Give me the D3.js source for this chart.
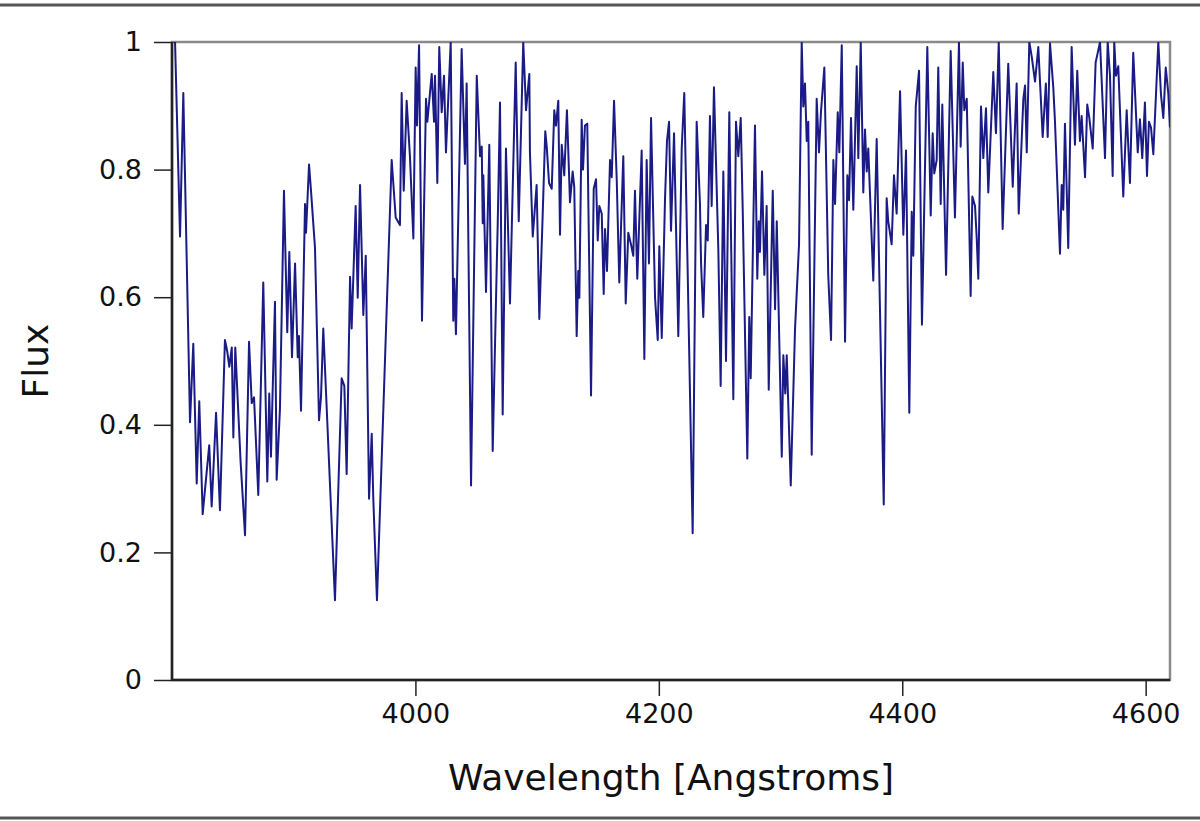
<!DOCTYPE html>
<html lang="en">
<head>
  <meta charset="UTF-8">
  <title>Spectrum</title>
  <script src="https://d3js.org/d3.v7.min.js"></script>
  <style>
    body { margin: 0; background: #fff; }
  </style>
</head>
<body>
<script>
  var width = 1200;
  var height = 821;
  var margin = { top: 42, right: 30, bottom: 141, left: 172 };

  // spectrum
  var wavelength = [
    3801.1, 3802.5, 3806.6, 3809.3, 3814.8, 3817.5, 3820.3, 3822.4, 3825.2, 3830.6,
    3832.6, 3836.2, 3839.4, 3843.5, 3845.4, 3847.1, 3849.1, 3850.4, 3852.0, 3856.4,
    3860.0, 3863.3, 3865.5, 3867.4, 3870.9, 3875.0, 3878.3, 3879.9, 3881.3, 3884.6,
    3886.0, 3888.7, 3892.0, 3894.7, 3896.4, 3898.6, 3901.1, 3903.3, 3904.3, 3906.0,
    3909.3, 3910.1, 3912.6, 3914.2, 3917.5, 3920.8, 3922.4, 3924.3, 3933.9, 3939.4,
    3941.6, 3943.5, 3946.3, 3947.6, 3950.9, 3952.6, 3954.5, 3957.2, 3959.2, 3961.9,
    3964.1, 3965.4, 3968.4, 3976.4, 3980.5, 3983.8, 3987.3, 3988.7, 3990.4, 3992.8,
    3995.5, 3998.3, 4000.2, 4001.3, 4003.0, 4005.4, 4008.7, 4009.8, 4013.4, 4015.3,
    4016.1, 4018.0, 4019.6, 4021.6, 4023.5, 4025.1, 4029.0, 4031.1, 4032.0, 4033.3,
    4038.0, 4040.7, 4042.1, 4045.7, 4050.4, 4053.1, 4054.5, 4055.3, 4055.8, 4058.0,
    4060.7, 4063.5, 4066.8, 4067.6, 4069.5, 4071.7, 4074.4, 4077.7, 4082.4, 4084.9,
    4088.6, 4090.9, 4093.6, 4094.1, 4096.4, 4099.6, 4101.8, 4104.6, 4106.7, 4107.9,
    4109.8, 4112.0, 4114.1, 4115.5, 4117.4, 4118.8, 4120.2, 4122.3, 4124.5, 4127.0,
    4129.2, 4130.5, 4132.5, 4133.8, 4134.7, 4136.6, 4137.7, 4139.3, 4141.2, 4144.3,
    4146.5, 4148.4, 4149.8, 4151.1, 4153.1, 4154.7, 4155.8, 4157.4, 4159.9, 4161.3,
    4163.2, 4165.4, 4167.5, 4170.8, 4172.8, 4174.9, 4177.1, 4179.0, 4180.4, 4182.3,
    4185.9, 4188.1, 4190.0, 4191.9, 4193.6, 4196.9, 4199.1, 4200.4, 4202.4, 4205.1,
    4206.7, 4208.4, 4210.0, 4212.5, 4216.0, 4218.8, 4220.9, 4227.8, 4231.1, 4233.8,
    4234.7, 4236.5, 4238.8, 4240.2, 4242.0, 4243.4, 4245.3, 4248.9, 4250.8, 4253.0,
    4255.2, 4257.9, 4261.2, 4263.4, 4265.3, 4267.3, 4268.9, 4272.7, 4274.3, 4275.5,
    4279.0, 4280.9, 4282.1, 4283.1, 4284.8, 4286.7, 4288.6, 4290.3, 4293.6, 4295.5,
    4296.9, 4301.0, 4302.3, 4303.9, 4305.1, 4308.4, 4311.9, 4315.2, 4317.4, 4318.7,
    4320.1, 4321.5, 4322.8, 4325.6, 4329.7, 4331.6, 4333.2, 4336.0, 4339.2, 4341.5,
    4343.4, 4344.8, 4347.0, 4348.3, 4350.3, 4353.0, 4354.9, 4356.3, 4357.9, 4359.8,
    4362.6, 4363.9, 4365.9, 4368.0, 4369.4, 4370.8, 4372.1, 4376.2, 4379.0, 4384.8,
    4387.2, 4388.5, 4391.3, 4393.2, 4395.4, 4398.2, 4400.9, 4403.1, 4405.8, 4407.8,
    4409.1, 4411.1, 4413.8, 4416.2, 4420.6, 4423.4, 4425.0, 4426.3, 4428.3, 4429.6,
    4431.6, 4432.9, 4436.0, 4439.8, 4443.3, 4446.6, 4448.0, 4449.7, 4451.0, 4453.0,
    4456.2, 4457.6, 4459.8, 4461.2, 4462.5, 4464.7, 4466.6, 4468.8, 4470.7, 4474.8,
    4477.0, 4479.3, 4482.5, 4487.1, 4490.8, 4494.0, 4495.7, 4499.5, 4500.9, 4502.3,
    4504.4, 4506.4, 4509.1, 4511.8, 4515.4, 4518.0, 4519.5, 4521.4, 4524.1, 4525.5,
    4529.6, 4531.0, 4532.3, 4533.7, 4536.4, 4539.2, 4541.9, 4543.8, 4546.0, 4547.4,
    4550.2, 4552.0, 4553.7, 4556.5, 4558.9, 4560.6, 4562.5, 4566.6, 4568.8, 4570.7,
    4572.9, 4574.2, 4575.6, 4577.5, 4581.6, 4584.4, 4587.1, 4589.8, 4593.5, 4595.3,
    4597.2, 4599.4, 4601.1, 4602.7, 4604.4, 4606.3, 4610.4, 4612.6, 4614.5, 4616.5,
    4618.6, 4620.0
  ];
  var flux = [
    1.0, 1.0, 0.695, 0.92, 0.404, 0.527, 0.308, 0.437, 0.26, 0.368,
    0.272, 0.419, 0.266, 0.533, 0.515, 0.491, 0.521, 0.38, 0.521, 0.341,
    0.227, 0.53, 0.434, 0.443, 0.29, 0.623, 0.311, 0.449, 0.35, 0.593,
    0.314, 0.425, 0.767, 0.545, 0.671, 0.506, 0.653, 0.506, 0.539, 0.422,
    0.746, 0.701, 0.808, 0.767, 0.677, 0.407, 0.443, 0.551, 0.125, 0.473,
    0.461, 0.323, 0.632, 0.551, 0.743, 0.599, 0.776, 0.572, 0.665, 0.284,
    0.386, 0.284, 0.125, 0.581, 0.815, 0.725, 0.713, 0.92, 0.767, 0.908,
    0.821, 0.692, 0.96, 0.869, 0.995, 0.563, 0.911, 0.875, 0.95, 0.875,
    0.947, 0.779, 0.992, 0.89, 0.947, 0.827, 1.0, 0.563, 0.629, 0.542,
    0.989, 0.809, 0.935, 0.305, 0.947, 0.821, 0.836, 0.716, 0.791, 0.608,
    0.839, 0.359, 0.647, 0.713, 0.905, 0.416, 0.833, 0.59, 0.968, 0.719,
    1.0, 0.893, 0.95, 0.827, 0.695, 0.776, 0.566, 0.731, 0.86, 0.836,
    0.779, 0.77, 0.893, 0.869, 0.908, 0.698, 0.839, 0.791, 0.893, 0.749,
    0.797, 0.773, 0.539, 0.641, 0.599, 0.878, 0.8, 0.869, 0.872, 0.446,
    0.77, 0.785, 0.689, 0.743, 0.731, 0.605, 0.707, 0.641, 0.815, 0.788,
    0.908, 0.785, 0.623, 0.821, 0.59, 0.701, 0.683, 0.665, 0.767, 0.629,
    0.83, 0.503, 0.815, 0.653, 0.881, 0.599, 0.533, 0.68, 0.536, 0.755,
    0.845, 0.875, 0.704, 0.857, 0.539, 0.833, 0.92, 0.23, 0.875, 0.746,
    0.653, 0.569, 0.713, 0.689, 0.884, 0.743, 0.929, 0.674, 0.461, 0.797,
    0.5, 0.89, 0.44, 0.875, 0.821, 0.881, 0.74, 0.347, 0.569, 0.473,
    0.869, 0.629, 0.719, 0.671, 0.797, 0.635, 0.743, 0.455, 0.767, 0.581,
    0.719, 0.35, 0.509, 0.449, 0.509, 0.305, 0.55, 0.683, 1.0, 0.899,
    0.935, 0.845, 0.875, 0.353, 0.911, 0.827, 0.89, 0.96, 0.635, 0.533,
    0.815, 0.746, 0.89, 0.827, 0.995, 0.53, 0.791, 0.752, 0.881, 0.737,
    0.962, 0.818, 1.0, 0.764, 0.863, 0.797, 0.833, 0.626, 0.848, 0.275,
    0.755, 0.719, 0.683, 0.791, 0.731, 0.923, 0.698, 0.83, 0.419, 0.734,
    0.665, 0.899, 0.955, 0.557, 0.992, 0.728, 0.857, 0.794, 0.815, 0.96,
    0.746, 0.902, 0.635, 0.986, 0.725, 1.0, 0.836, 0.968, 0.893, 0.911,
    0.602, 0.758, 0.743, 0.692, 0.629, 0.899, 0.818, 0.896, 0.764, 0.953,
    0.857, 1.0, 0.707, 0.966, 0.773, 0.935, 0.731, 0.911, 0.932, 0.827,
    1.0, 0.977, 0.938, 0.992, 0.851, 0.935, 0.851, 0.998, 0.929, 0.875,
    0.668, 0.776, 0.737, 0.872, 0.677, 0.992, 0.839, 0.955, 0.845, 0.884,
    0.788, 0.902, 0.881, 0.833, 0.968, 0.983, 1.0, 0.818, 1.0, 0.947,
    0.79, 1.0, 0.947, 0.962, 0.758, 0.893, 0.779, 0.983, 0.827, 0.879,
    0.818, 0.905, 0.79, 0.875, 0.866, 0.824, 1.0, 0.917, 0.881, 0.96,
    0.92, 0.866
  ];

  var xTicks = [4000, 4200, 4400, 4600];
  var yTicks = [0, 0.2, 0.4, 0.6, 0.8, 1];

  var svg = d3.select("body").append("svg")
      .attr("width", width)
      .attr("height", height);

  svg.append("rect").attr("width", width).attr("height", height).attr("fill", "#fff");

  // frame lines at top and bottom of the image
  svg.append("line").attr("x1", 0).attr("x2", width).attr("y1", 5).attr("y2", 5)
      .attr("stroke", "#555").attr("stroke-width", 3);
  svg.append("line").attr("x1", 0).attr("x2", width).attr("y1", 818).attr("y2", 818)
      .attr("stroke", "#555").attr("stroke-width", 3);

  var x = d3.scaleLinear().domain([3800, 4620]).range([margin.left, width - margin.right]);
  var y = d3.scaleLinear().domain([0, 1]).range([height - margin.bottom, margin.top]);

  svg.append("clipPath").attr("id", "plot")
    .append("rect")
      .attr("x", x.range()[0]).attr("y", y.range()[1])
      .attr("width", x.range()[1] - x.range()[0])
      .attr("height", y.range()[0] - y.range()[1]);

  // gray box on top and right
  svg.append("rect")
      .attr("x", x.range()[0]).attr("y", y.range()[1])
      .attr("width", x.range()[1] - x.range()[0])
      .attr("height", y.range()[0] - y.range()[1])
      .attr("fill", "none").attr("stroke", "#8a8a8a").attr("stroke-width", 2.5);

  var pts = d3.zip(wavelength, flux);
  var line = d3.line().x(function(d) { return x(d[0]); }).y(function(d) { return y(d[1]); });

  svg.append("path")
      .datum(pts)
      .attr("clip-path", "url(#plot)")
      .attr("d", line)
      .attr("fill", "none")
      .attr("stroke", "#1b1b85")
      .attr("stroke-width", 2)
      .attr("stroke-linejoin", "round");

  var xAxis = svg.append("g")
      .attr("transform", "translate(0," + y.range()[0] + ")")
      .call(d3.axisBottom(x).tickValues(xTicks).tickSize(16).tickPadding(8).tickFormat(d3.format("d")));
  xAxis.select(".domain").attr("stroke", "#222").attr("stroke-width", 2.5)
      .attr("d", "M" + x.range()[0] + ",0H" + x.range()[1]);
  xAxis.selectAll(".tick line").attr("stroke", "#222").attr("stroke-width", 1.5);
  xAxis.selectAll(".tick text").attr("font-family", "DejaVu Sans").attr("font-size", 27).attr("fill", "#111");

  var yAxis = svg.append("g")
      .attr("transform", "translate(" + x.range()[0] + ",0)")
      .call(d3.axisLeft(y).tickValues(yTicks).tickSize(18).tickPadding(12).tickFormat(d3.format("")));
  yAxis.select(".domain").attr("stroke", "#222").attr("stroke-width", 2.5)
      .attr("d", "M0," + y.range()[0] + "V" + y.range()[1]);
  yAxis.selectAll(".tick line").attr("stroke", "#222").attr("stroke-width", 1.5);
  yAxis.selectAll(".tick text").attr("font-family", "DejaVu Sans").attr("font-size", 27).attr("fill", "#111");

  svg.append("text")
      .attr("x", (x.range()[0] + x.range()[1]) / 2)
      .attr("y", 790)
      .attr("text-anchor", "middle")
      .attr("font-family", "DejaVu Sans")
      .attr("font-size", 36)
      .attr("fill", "#111")
      .text("Wavelength [Angstroms]");

  svg.append("text")
      .attr("transform", "translate(48," + (y.range()[0] + y.range()[1]) / 2 + ") rotate(-90)")
      .attr("text-anchor", "middle")
      .attr("font-family", "DejaVu Sans")
      .attr("font-size", 36)
      .attr("fill", "#111")
      .text("Flux");
</script>
</body>
</html>
